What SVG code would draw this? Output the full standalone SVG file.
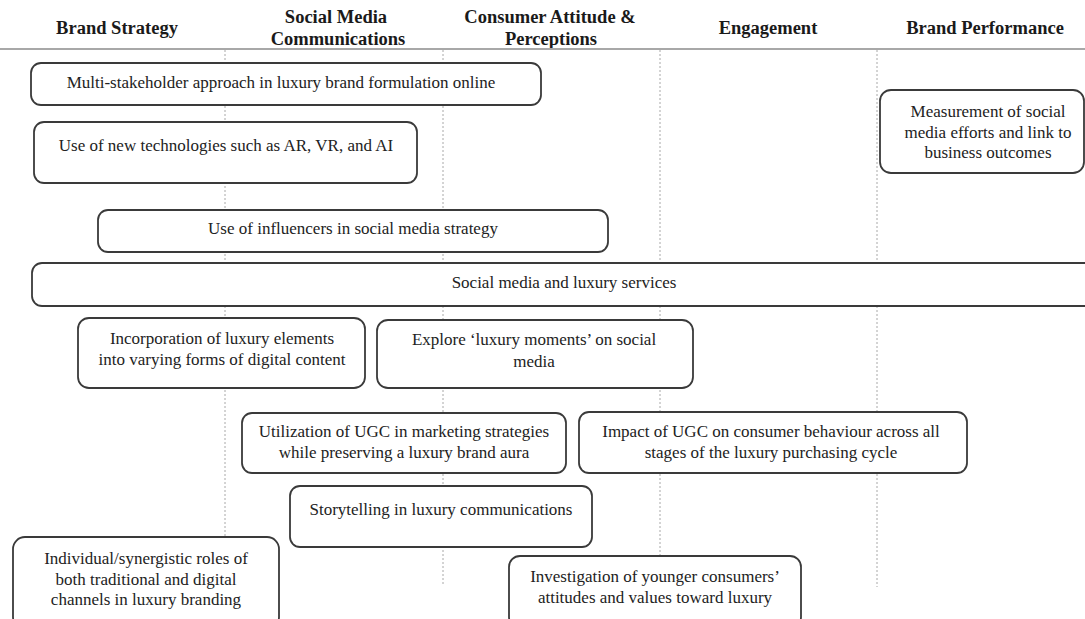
<svg xmlns="http://www.w3.org/2000/svg" width="1085" height="619" viewBox="0 0 1085 619">
<style>
.hd{font-family:"Liberation Serif","Times New Roman","DejaVu Serif",serif;font-size:18.5px;font-weight:bold;fill:#1a1a1a;text-anchor:middle}
.bx{fill:#fff;stroke:#3a3a3a;stroke-width:1.8}
.tx{font-family:"Liberation Serif","Times New Roman","DejaVu Serif",serif;font-size:17px;fill:#222;text-anchor:middle}
.dl{stroke:#a8a8a8;stroke-width:1;stroke-dasharray:2,2;fill:none}
</style>
<rect width="1085" height="619" fill="#fff"/>
<g id="headers">
<text class="hd" x="117" y="34">Brand Strategy</text>
<text class="hd" x="336" y="23">Social Media</text>
<text class="hd" x="338" y="45">Communications</text>
<text class="hd" x="550" y="23">Consumer Attitude &amp;</text>
<text class="hd" x="551" y="45">Perceptions</text>
<text class="hd" x="768" y="34">Engagement</text>
<text class="hd" x="985" y="34">Brand Performance</text>
<line x1="0" y1="49" x2="1085" y2="49" stroke="#a8a8a8" stroke-width="2"/>
</g>
<g id="connectors">
<line class="dl" x1="225" y1="50" x2="225" y2="537"/>
<line class="dl" x1="443" y1="50" x2="443" y2="586"/>
<line class="dl" x1="660" y1="50" x2="660" y2="556"/>
<line class="dl" x1="877" y1="50" x2="877" y2="587"/>
</g>
<g id="n1"><rect class="bx" x="31" y="63" width="510" height="42" rx="10"/>
<text class="tx" x="281" y="88">Multi-stakeholder approach in luxury brand formulation online</text></g>
<g id="n2"><rect class="bx" x="34" y="122" width="383" height="61" rx="10"/>
<text class="tx" x="226" y="151">Use of new technologies such as AR, VR, and AI</text></g>
<g id="n3"><rect class="bx" x="880" y="90" width="204" height="83" rx="11"/>
<text class="tx" x="988" y="117">Measurement of social</text>
<text class="tx" x="988" y="138">media efforts and link to</text>
<text class="tx" x="988" y="158">business outcomes</text></g>
<g id="n4"><rect class="bx" x="98" y="210" width="510" height="42" rx="10"/>
<text class="tx" x="353" y="234">Use of influencers in social media strategy</text></g>
<g id="n5"><rect class="bx" x="32" y="263" width="1070" height="43" rx="10"/>
<text class="tx" x="564" y="288">Social media and luxury services</text></g>
<g id="n6"><rect class="bx" x="78" y="318" width="287" height="70" rx="11"/>
<text class="tx" x="222" y="344">Incorporation of luxury elements</text>
<text class="tx" x="222" y="365">into varying forms of digital content</text></g>
<g id="n7"><rect class="bx" x="377" y="320" width="316" height="68" rx="11"/>
<text class="tx" x="534" y="345">Explore ‘luxury moments’ on social</text>
<text class="tx" x="534" y="367">media</text></g>
<g id="n8"><rect class="bx" x="242" y="413" width="324" height="60" rx="10"/>
<text class="tx" x="404" y="437">Utilization of UGC in marketing strategies</text>
<text class="tx" x="404" y="458">while preserving a luxury brand aura</text></g>
<g id="n9"><rect class="bx" x="579" y="412" width="388" height="61" rx="10"/>
<text class="tx" x="771" y="437">Impact of UGC on consumer behaviour across all</text>
<text class="tx" x="771" y="458">stages of the luxury purchasing cycle</text></g>
<g id="n10"><rect class="bx" x="290" y="486" width="302" height="61" rx="10"/>
<text class="tx" x="441" y="515">Storytelling in luxury communications</text></g>
<g id="n11"><rect class="bx" x="13" y="537" width="266" height="92" rx="12"/>
<text class="tx" x="146" y="564">Individual/synergistic roles of</text>
<text class="tx" x="146" y="585">both traditional and digital</text>
<text class="tx" x="146" y="605">channels in luxury branding</text></g>
<g id="n12"><rect class="bx" x="509" y="556" width="292" height="72" rx="11"/>
<text class="tx" x="655" y="582">Investigation of younger consumers’</text>
<text class="tx" x="655" y="603">attitudes and values toward luxury</text></g>
</svg>
